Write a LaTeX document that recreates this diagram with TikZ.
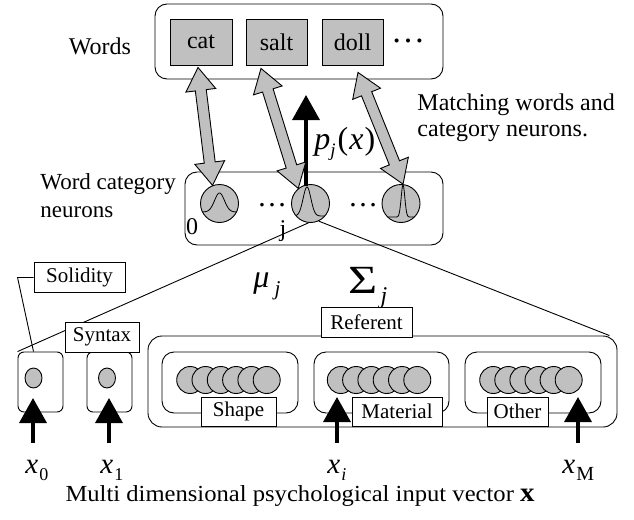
\documentclass[tikz,border=0pt]{standalone}
\usepackage{fontspec}
\setmainfont{Liberation Serif}
\usepackage{graphicx}
\usetikzlibrary{calc,arrows.meta,shapes.geometric}
\definecolor{cgray}{RGB}{192,192,192}
\newcommand\fs[2]{\fontsize{#1}{#2}\selectfont}
\newcommand\dblarrow[3]{%
 \coordinate (#3-a) at ($(#1)!23pt!(#2)$);
 \coordinate (#3-b) at ($(#2)!23pt!(#1)$);
 \filldraw[garrow] (#1) -- ($(#3-a)!15pt!90:(#2)$) -- ($(#3-a)!5.5pt!90:(#2)$) -- ($(#3-b)!5.5pt!-90:(#1)$) -- ($(#3-b)!15pt!-90:(#1)$) -- (#2) -- ($(#3-b)!15pt!90:(#1)$) -- ($(#3-b)!5.5pt!90:(#1)$) -- ($(#3-a)!5.5pt!-90:(#2)$) -- ($(#3-a)!15pt!-90:(#2)$) -- cycle;}
\begin{document}
\begin{tikzpicture}[x=1pt,y=-1pt,line width=0.9pt,
 grp/.style={draw, rounded corners=12pt, inner sep=0pt},
 sgrp/.style={draw, rounded corners=6pt, inner sep=0pt},
 lbl/.style={draw, fill=white, inner sep=0pt, minimum height=30pt, font=\fs{21}{21}},
 word/.style={draw, fill=cgray, inner sep=0pt, minimum width=61pt, minimum height=46pt, font=\fs{24}{24}},
 neur/.style={circle, draw, fill=cgray, minimum size=38pt, inner sep=0pt},
 unit/.style={ellipse, draw, fill=cgray, minimum width=17pt, minimum height=20pt, inner sep=0pt},
 rc/.style={circle, draw, fill=cgray, minimum size=27pt, inner sep=0pt},
 inarr/.style={line width=3.5pt, -{Triangle[length=25pt,width=27pt]}},
 garrow/.style={draw=black, fill=cgray, line width=0.9pt, line join=miter},
 txt/.style={inner sep=0pt}
]
\fill[white] (0,0) rectangle (634,519);
\useasboundingbox (0,0) rectangle (634,519);

% ---------- words ----------
\node[grp, minimum width=288pt, minimum height=75pt] (wordsbox) at (299,41.5) {};
\node[word, minimum width=62pt] (cat) at (201,42) {cat};
\node[word] (salt) at (276.5,42) {salt};
\node[word] (doll) at (352.5,42) {doll};
\node[txt, anchor=base, font=\fs{34}{34}] (wdots) at (408,42) {…};
\node[txt, font=\fs{24}{24}] (wordslbl) at (100,46) {Words};

% ---------- category neurons ----------
\node[grp, minimum width=258pt, minimum height=73pt] (neurbox) at (314,208.5) {};
\node[neur] (c0) at (219.5,203.5) {};
\node[neur] (cj) at (310.5,203.5) {};
\node[neur] (cl) at (401,203.5) {};
\begin{scope}
 \clip (219.5,203.5) circle[radius=19pt];
 \draw[line width=0.8pt] plot[domain=-19:19, samples=60] ({219.5+\x}, {212-19*exp(-(\x/7)^2)});
\end{scope}
\begin{scope}
 \clip (310.5,203.5) circle[radius=19pt];
 \draw[line width=0.8pt] plot[domain=-22:22, samples=80] ({307+\x}, {216-29*exp(-(\x/5.5)^2)});
\end{scope}
\begin{scope}
 \clip (401,203.5) circle[radius=19pt];
 \draw[line width=0.8pt] plot[domain=-18:18, samples=120] ({403+\x}, {217-32*exp(-(\x/2.6)^2)});
\end{scope}
\node[txt, anchor=base, font=\fs{30}{30}] (ndots1) at (272,206) {…};
\node[txt, anchor=base, font=\fs{30}{30}] (ndots2) at (363,206) {…};
\node[txt, font=\fs{24}{24}] (lbl0) at (192,227) {0};
\node[txt, font=\fs{24}{24}] (lblj) at (283,231) {j};
\node[txt, anchor=west, align=left, font=\fs{23}{28}] (wcn) at (40,196) {Word category\\neurons};
\node[txt, anchor=west, align=left, font=\fs{24}{26}] (match) at (417,118) {Matching words and\\category neurons.};

% ---------- output arrow ----------
\coordinate (ptop) at (306,95);
\draw[inarr] ([xshift=-4.5pt,yshift=-2pt]cj.north) -- (ptop);
\node[txt, anchor=base west] (pjx) at (314,149) {\fs{32}{32}\textit{p}\raisebox{-7pt}{\fs{19}{19}\textit{j}}\hspace{2pt}(\hspace{1pt}\textit{x}\hspace{1pt})};

% ---------- gray double arrows ----------
\coordinate (a1s) at ([xshift=-3pt,yshift=-2pt]cat.south);
\coordinate (a2s) at ([xshift=-15.5pt,yshift=-3pt]salt.south);
\coordinate (a3s) at ([xshift=5.5pt,yshift=-7pt]doll.south);
\dblarrow{a1s}{c0.111}{g1}
\dblarrow{a2s}{cj.129}{g2}
\dblarrow{a3s}{cl.84}{g3}

% ---------- input groups ----------
\node[sgrp, minimum width=45pt, minimum height=60pt] (x0box) at (40.5,382) {};
\node[sgrp, minimum width=45pt, minimum height=60pt] (x1box) at (109.5,382) {};
\node[grp, rounded corners=14pt, minimum width=469pt, minimum height=91pt] (refbox) at (382.5,381.5) {};
\node[grp, minimum width=136pt, minimum height=61pt] (shapebox) at (230,382.5) {};
\node[grp, minimum width=135pt, minimum height=61pt] (matbox) at (381.5,382.5) {};
\node[grp, minimum width=136pt, minimum height=61pt] (othbox) at (533,382.5) {};

% lines from neuron j
\draw (cj.-96) -- (x0box.north west);
\draw (cj.-65) -- ([xshift=-8pt]refbox.north east);

\node[unit] (u0) at (33.5,378) {};
\node[unit] (u1) at (107,378) {};
\foreach \i in {0,...,5} {
 \node[rc] (s\i) at ({190.2+15.3*\i},380) {};
}
\foreach \i in {0,...,5} {
 \node[rc] (m\i) at ({340.8+15.3*\i},380) {};
}
\foreach \i in {0,...,5} {
 \node[rc] (o\i) at ({493.2+15.1*\i},380) {};
}

% labels
\node[lbl, minimum width=91pt] (sol) at (79.5,277.5) {Solidity};
\draw (sol.west) -- ++(-16,0) -- ([xshift=-7pt]x0box.north);
\node[lbl, minimum width=74pt] (syn) at (102,337) {Syntax};
\node[lbl, minimum width=91pt] (ref) at (366.5,322) {Referent};
\node[lbl, minimum width=75pt, minimum height=29pt] (shp) at (238.5,411.5) {Shape};
\node[lbl, minimum width=90pt, minimum height=29pt] (mat) at (397,411.5) {Material};
\node[lbl, minimum width=61pt, minimum height=29pt] (oth) at (517.5,411.5) {Other};

\node[txt, anchor=base west] (mu) at (253,287) {\fs{32}{32}\textit{μ}\hspace{5pt}\raisebox{-8pt}{\fs{21}{21}\textit{j}}};
\node[txt, anchor=base west] (sig) at (348,293) {\fs{40}{40}\scalebox{1.25}[1]{Σ}\hspace{3pt}\raisebox{-10pt}{\fs{24}{24}\textit{j}}};

% input arrows
\coordinate (t0) at (33,443);   \coordinate (h0) at (33,398);
\coordinate (t1) at (109,443);  \coordinate (h1) at (109,398);
\coordinate (ti) at (337,443);  \coordinate (hi) at (337,397);
\coordinate (tM) at (578,443);  \coordinate (hM) at (578,397);
\draw[inarr] (t0) -- (h0);
\draw[inarr] (t1) -- (h1);
\draw[inarr] (ti) -- (hi);
\draw[inarr] (tM) -- (hM);

\node[txt, anchor=base west] (x0) at (25,473) {\fs{29}{29}\textit{x}\hspace{1pt}\raisebox{-7pt}{\fs{18}{18}0}};
\node[txt, anchor=base west] (x1) at (100,473) {\fs{29}{29}\textit{x}\hspace{1pt}\raisebox{-7pt}{\fs{18}{18}1}};
\node[txt, anchor=base west] (xi) at (327,473) {\fs{29}{29}\textit{x}\hspace{1pt}\raisebox{-7pt}{\fs{18}{18}\textit{i}}};
\node[txt, anchor=base west] (xM) at (562,473) {\fs{29}{29}\textit{x}\hspace{1pt}\raisebox{-7pt}{\fs{20}{20}M}};
\node[txt] (caption) at (300,496) {\scalebox{1.07}[1]{\fs{23}{23}Multi dimensional psychological input vector \textbf{\fs{27}{27}x}}};
\end{tikzpicture}
\end{document}
